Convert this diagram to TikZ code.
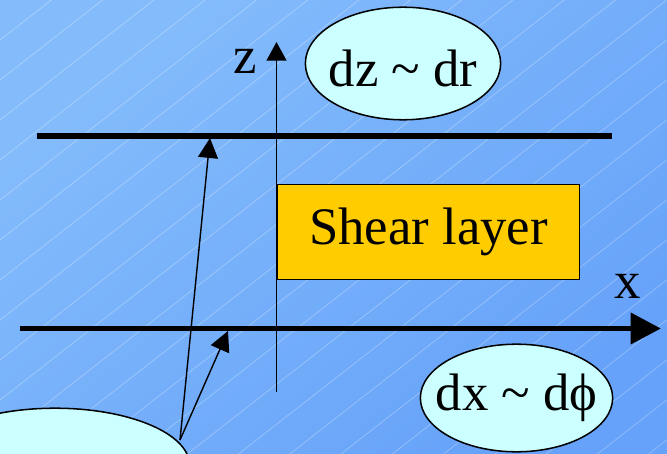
\documentclass[tikz,border=0pt]{standalone}
\usepackage{fontspec}
\setmainfont{Liberation Serif}
\usetikzlibrary{arrows.meta,shapes.geometric}
\definecolor{bgA}{HTML}{84BCFB}
\definecolor{bgB}{HTML}{66A2F9}
\definecolor{bubble}{HTML}{CCFFFF}
\definecolor{shear}{HTML}{FFCC00}
\tikzset{
  big/.style={font=\fontsize{45}{50}\selectfont},
  bubblebox/.style={ellipse,draw=black,line width=1.3pt,fill=bubble,inner sep=0pt},
  thickline/.style={line width=5pt},
  axisline/.style={line width=1.7pt},
  pointer/.style={line width=1.2pt,-{Triangle[length=17pt,width=17pt]}},
}
\begin{document}
\begin{tikzpicture}[x=0.03cm,y=-0.03cm]
\useasboundingbox (0,0) rectangle (667,454);
% background
\shade[top color=bgA,bottom color=bgB,shading angle=40] (0,0) rectangle (667,454);
\begin{scope}
\clip (0,0) rectangle (667,454);
\foreach \c in {0,40,...,1000}{
  \draw[white,opacity=0.35,line width=0.5pt] (0,\c) -- (667,{\c-0.78*667});
}
\end{scope}
% bottom-left bubble
\node[bubblebox,minimum width=270*0.8504pt,minimum height=114*0.8504pt] (src) at (55,465) {};
% shear layer
\node[draw=black,line width=0.8pt,fill=shear,minimum width=303*0.8504pt,minimum height=96*0.8504pt,big] (shear) at (428.5,232) {Shear layer};
% lines
\coordinate (topL) at (37,136);
\coordinate (topR) at (612,136);
\draw[thickline] (topL) -- (topR);
\coordinate (xL) at (20,328.5);
\coordinate (xR) at (661,328.5);
\draw[thickline,-{Triangle[length=26pt,width=26pt]}] (xL) -- (xR);
\coordinate (zB) at (276.5,392);
\coordinate (zT) at (276.5,42);
\draw[axisline,-{Triangle[length=16pt,width=17pt]}] (zB) -- (zT);
% labels
\node[big,inner sep=0pt] (zlab) at (245,61) {z};
\node[big,inner sep=0pt] (xlab) at (628,286) {x};
% bubbles
\node[bubblebox,minimum width=196*0.8504pt,minimum height=113*0.8504pt,
      label={[big,yshift=-4pt]center:dz \char"007E{} dr}] (dz) at (403,63.5) {};
\node[bubblebox,minimum width=193*0.8504pt,minimum height=108*0.8504pt,
      label={[big]center:dx \char"007E{} dϕ}] (dx) at (516.5,398) {};
% pointers
\coordinate (o) at (180,440);
\coordinate (hitTop) at (210,138);
\coordinate (hitX) at (228,331);
\draw[pointer] (o) -- (hitTop);
\draw[pointer] (o) -- (hitX);
\end{tikzpicture}
\end{document}
